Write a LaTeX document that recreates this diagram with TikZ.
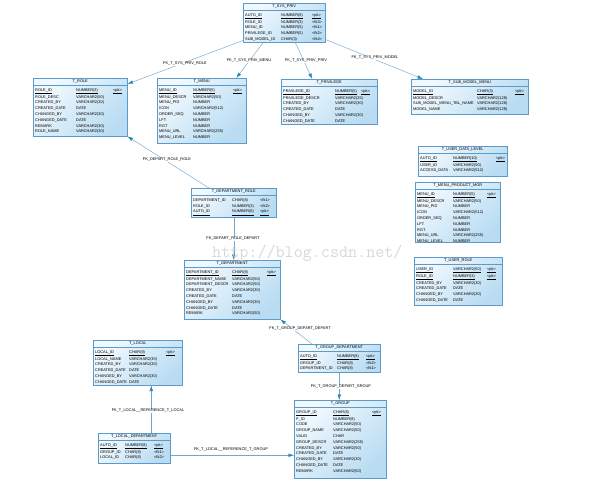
\documentclass[tikz,border=0pt]{standalone}
\usepackage{fontspec}
\setmainfont{Liberation Sans}
\usetikzlibrary{arrows.meta,calc}
\definecolor{boxborder}{HTML}{5A9BCB}
\definecolor{boxlight}{HTML}{F2F9FE}
\definecolor{boxdark}{HTML}{B9DCF2}
\definecolor{linec}{HTML}{6FA9D2}
\definecolor{arrowc}{HTML}{2A86B4}
\definecolor{wmcolor}{HTML}{CFCFCF}
\newcommand\entfont{\fontsize{3.9}{5.8}\selectfont}
\newcommand\pk[1]{\underline{#1}}
\tikzset{
  entbox/.style={draw=boxborder, line width=0.5pt, top color=boxlight, bottom color=boxdark, shading angle=45, inner sep=0pt, anchor=north west},
  enttitle/.style={font=\entfont, inner sep=0pt, anchor=center},
  entsep/.style={draw=boxborder, line width=0.4pt},
  entrows/.style={font=\entfont, inner sep=0pt, anchor=north west},
  fk/.style={draw=linec, line width=0.45pt, -{Latex[length=5.5pt,width=3.6pt,color=arrowc]}},
  fklabel/.style={font=\entfont, fill=white, inner sep=0.6pt},
}
% #1 id, #2 x, #3 y, #4 w, #5 h, #6 type column offset, #7 key column offset, #8 title, #9 rows
\newcommand\entity[9]{%
  \node[entbox, minimum width=#4pt, minimum height=#5pt] (#1) at (#2,#3) {};
  \node[enttitle] (#1-t) at ([yshift=-3.8pt]#1.north) {#8};
  \draw[entsep] ([yshift=-7.5pt]#1.north west) -- ([yshift=-7.5pt]#1.north east);
  \node[entrows] (#1-r) at ([xshift=2pt,yshift=-9pt]#1.north west)
    {\begin{tabular}{@{}p{\dimexpr#6pt-2pt\relax}@{}p{\dimexpr#7pt-#6pt\relax}@{}l@{}}#9\end{tabular}};
}
\begin{document}
\begin{tikzpicture}[x=1pt,y=-1pt]
\fill[white] (0,0) rectangle (604,489);
\useasboundingbox (0,0) rectangle (604,489);

\entity{sys}{243}{3}{82}{39}{38}{69}{T\_SYS\_PRIV}{%
\pk{AUTO\_ID} & \pk{NUMBER(8)} & \pk{<pk>}\\
ROLE\_ID & NUMBER(3) & <fk3>\\
MENU\_ID & NUMBER(5) & <fk1>\\
PRIVILEGE\_ID & NUMBER(5) & <fk2>\\
SUB\_MODEL\_ID & CHAR(3) & <fk4>}

\entity{role}{33}{78}{94}{58}{43}{80}{T\_ROLE}{%
\pk{ROLE\_ID} & \pk{NUMBER(3)} & \pk{<pk>}\\
ROLE\_DESC & VARCHAR2(50) & \\
CREATED\_BY & VARCHAR2(30) & \\
CREATED\_DATE & DATE & \\
CHANGED\_BY & VARCHAR2(30) & \\
CHANGED\_DATE & DATE & \\
REMARK & VARCHAR2(30) & \\
ROLE\_NAME & VARCHAR2(30) & }

\entity{menu}{157}{78}{89}{65}{36}{76}{T\_MENU}{%
\pk{MENU\_ID} & \pk{NUMBER(5)} & \pk{<pk>}\\
MENU\_DESCR & VARCHAR2(50) & \\
MENU\_PID & NUMBER & \\
ICON & VARCHAR2(512) & \\
ORDER\_SEQ & NUMBER & \\
LFT & NUMBER & \\
RGT & NUMBER & \\
MENU\_URL & VARCHAR2(255) & \\
MENU\_LEVEL & NUMBER & }

\entity{priv}{281}{79}{96}{45}{54}{80}{T\_PRIVILEGE}{%
\pk{PRIVILEGE\_ID} & \pk{NUMBER(5)} & \pk{<pk>}\\
PRIVILEGE\_DESCR & VARCHAR2(25) & \\
CREATED\_BY & VARCHAR2(30) & \\
CREATED\_DATE & DATE & \\
CHANGED\_BY & VARCHAR2(30) & \\
CHANGED\_DATE & DATE & }

\entity{submodel}{411}{79}{117}{35}{66}{104}{T\_SUB\_MODEL\_MENU}{%
\pk{MODEL\_ID} & \pk{CHAR(3)} & \pk{<pk>}\\
MODEL\_DESCR & VARCHAR2(128) & \\
SUB\_MODEL\_MENU\_TBL\_NAME & VARCHAR2(128) & \\
MODEL\_NAME & VARCHAR2(128) & }

\entity{udl}{418}{146}{89}{30}{35}{78}{T\_USER\_DATA\_LEVEL}{%
\pk{AUTO\_ID} & \pk{NUMBER(10)} & \pk{<pk>}\\
USER\_ID & VARCHAR2(50) & \\
ACCESS\_DATA & VARCHAR2(512) & }

\entity{mpm}{415}{182}{85}{60}{38}{72}{T\_MENU\_PRODUCT\_MGR}{%
\pk{MENU\_ID} & \pk{NUMBER(5)} & \pk{<pk>}\\
MENU\_DESCR & VARCHAR2(50) & \\
MENU\_PID & NUMBER & \\
ICON & VARCHAR2(512) & \\
ORDER\_SEQ & NUMBER & \\
LFT & NUMBER & \\
RGT & NUMBER & \\
MENU\_URL & VARCHAR2(255) & \\
MENU\_LEVEL & NUMBER & }

\entity{urole}{414}{257}{88}{48}{39}{73}{T\_USER\_ROLE}{%
\pk{USER\_ID} & \pk{VARCHAR2(50)} & \pk{<pk>}\\
\pk{ROLE\_ID} & \pk{NUMBER(3)} & \pk{<pk>}\\
CREATED\_BY & VARCHAR2(30) & \\
CREATED\_DATE & DATE & \\
CHANGED\_BY & VARCHAR2(30) & \\
CHANGED\_DATE & DATE & }

\entity{deptrole}{191}{188}{85}{29}{41}{69}{T\_DEPARTMENT\_ROLE}{%
DEPARTMENT\_ID & CHAR(8) & <fk1>\\
ROLE\_ID & NUMBER(3) & <fk2>\\
\pk{AUTO\_ID} & \pk{NUMBER(8)} & \pk{<pk>}}

\entity{dept}{184}{260}{96}{59}{48}{83}{T\_DEPARTMENT}{%
\pk{DEPARTMENT\_ID} & \pk{CHAR(8)} & \pk{<pk>}\\
DEPARTMENT\_NAME & VARCHAR2(50) & \\
DEPARTMENT\_DESCR & VARCHAR2(50) & \\
CREATED\_BY & VARCHAR2(30) & \\
CREATED\_DATE & DATE & \\
CHANGED\_BY & VARCHAR2(30) & \\
CHANGED\_DATE & DATE & \\
REMARK & VARCHAR2(50) & }

\entity{local}{93}{340}{89}{45}{36}{73}{T\_LOCAL}{%
\pk{LOCAL\_ID} & \pk{CHAR(8)} & \pk{<pk>}\\
LOCAL\_NAME & VARCHAR2(30) & \\
CREATED\_BY & VARCHAR2(30) & \\
CREATED\_DATE & DATE & \\
CHANGED\_BY & VARCHAR2(30) & \\
CHANGED\_DATE & DATE & }

\entity{gdept}{298}{344}{82}{28}{39}{68}{T\_GROUP\_DEPARTMENT}{%
\pk{AUTO\_ID} & \pk{NUMBER(8)} & \pk{<pk>}\\
GROUP\_ID & CHAR(8) & <fk2>\\
DEPARTMENT\_ID & CHAR(8) & <fk1>}

\entity{ldept}{98}{433}{72}{30}{27}{56}{T\_LOCAL\_DEPARTMENT}{%
\pk{AUTO\_ID} & \pk{NUMBER(8)} & \pk{<pk>}\\
GROUP\_ID & CHAR(8) & <fk1>\\
LOCAL\_ID & CHAR(8) & <fk2>}

\entity{group}{294}{400}{92}{78}{39}{78}{T\_GROUP}{%
\pk{GROUP\_ID} & \pk{CHAR(8)} & \pk{<pk>}\\
P\_ID & NUMBER(8) & \\
CODE & VARCHAR2(50) & \\
GROUP\_NAME & VARCHAR2(50) & \\
VALID & CHAR & \\
GROUP\_DESCR & VARCHAR2(255) & \\
CREATED\_BY & VARCHAR2(50) & \\
CREATED\_DATE & DATE & \\
CHANGED\_BY & VARCHAR2(30) & \\
CHANGED\_DATE & DATE & \\
REMARK & VARCHAR2(50) & }

% connectors
\coordinate (c1) at ([xshift=17pt]ldept.north);
\coordinate (c2) at ([yshift=-7pt]ldept.east);
\draw[fk] ([yshift=2pt]sys.south west) -- ([yshift=-6pt]role.north east);
\draw[fk] ([xshift=-21pt]sys.south) -- ([xshift=34.5pt]menu.north);
\draw[fk] ([xshift=11pt]sys.south) -- ([xshift=-17pt]priv.north);
\draw[fk] ([yshift=3pt]sys.south east) -- ([xshift=12pt]submodel.north west);
\draw[fk] ([xshift=18pt]deptrole.north west) -- (role.south east);
\draw[fk] (deptrole.south) -- (deptrole.south |- dept.north);
\draw[fk] ([xshift=14pt]gdept.north west) -- (dept.south east);
\draw[fk] (gdept.south) -- (gdept.south |- group.north);
\draw[fk] (c1) -- (c1 |- local.south);
\draw[fk] (c2) -- (c2 -| group.west);

% labels
\node[fklabel] (l1) at (185,64) {FK\_T\_SYS\_PRIV\_ROLE};
\node[fklabel] (l2) at (249,61) {FK\_T\_SYS\_PRIV\_MENU};
\node[fklabel] (l3) at (306,61) {FK\_T\_SYS\_PRIV\_PRIV};
\node[fklabel] (l4) at (375,58) {FK\_T\_SYS\_PRIV\_MODEL};
\node[fklabel] (l5) at (167,160) {FK\_DEPART\_ROLE\_ROLE};
\node[fklabel] (l6) at (233,239) {FK\_DEPART\_ROLE\_DEPART};
\node[fklabel] (l7) at (300,329) {FK\_T\_GROUP\_DEPART\_DEPART};
\node[fklabel] (l8) at (341,387) {FK\_T\_GROUP\_DEPART\_GROUP};
\node[fklabel] (l9) at (148,411) {FK\_T\_LOCAL\_\_REFERENCE\_T\_LOCAL};
\node[fklabel] (l10) at (231,450) {FK\_T\_LOCAL\_\_REFERENCE\_T\_GROUP};

% watermark
\node[anchor=base west, inner sep=0pt, text=wmcolor, opacity=0.8, font=\ttfamily\fontsize{17.6}{18}\selectfont] (wm) at (212,257) {http://blog.csdn.net/};
\end{tikzpicture}
\end{document}
